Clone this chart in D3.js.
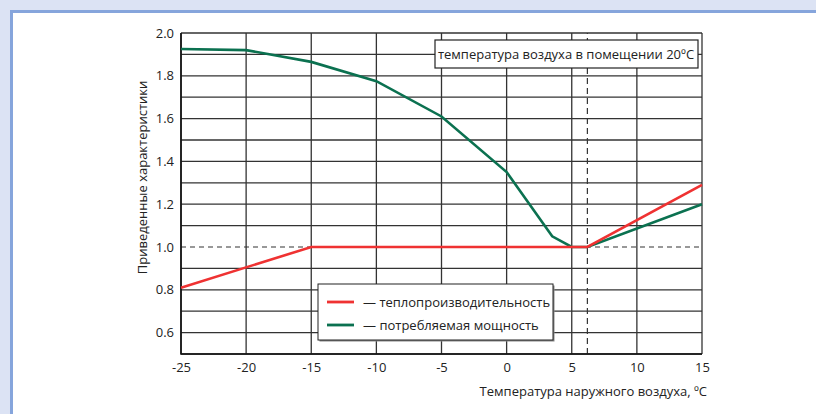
<!DOCTYPE html>
<html>
<head>
<meta charset="utf-8">
<script src="https://cdn.jsdelivr.net/npm/d3@7"></script>
<style>
  body { margin: 0; background: #dce3f4; }
  svg text { font-family: "Open Sans", "Noto Sans", sans-serif; fill: #222; }
</style>
</head>
<body>
<div id="canvas"></div>
<script>
// canvas size and plot box
const width = 816, height = 414;
const margin = { left: 181, right: 114, top: 33, bottom: 60 };

// data
const xTicks = [-25, -20, -15, -10, -5, 0, 5, 10, 15];
const yTicks = [0.6, 0.8, 1.0, 1.2, 1.4, 1.6, 1.8, 2.0];
const heatX = [-25, -15, 6.2, 15];
const heatY = [0.81, 1.0, 1.0, 1.29];
const powerX = [-25, -20, -15, -10, -5, 0, 3.5, 5, 6.2, 15];
const powerY = [1.925, 1.92, 1.865, 1.775, 1.61, 1.35, 1.05, 1.0, 1.0, 1.2];
const balanceX = 6.2;
const legendLabels = ["— теплопроизводительность", "— потребляемая мощность"];
const colors = ["#ef3232", "#0b7150"];

const x = d3.scaleLinear().domain([-25, 15]).range([margin.left, width - margin.right]);
const y = d3.scaleLinear().domain([0.5, 2.0]).range([height - margin.bottom, margin.top]);

const svg = d3.select("#canvas").append("svg")
    .attr("width", width).attr("height", height);

// white panel with blue frame
svg.append("rect").attr("x", 11.5).attr("y", 11.5).attr("width", width).attr("height", height)
    .attr("fill", "#fff").attr("stroke", "#86a5dc").attr("stroke-width", 3);

// grid: horizontal every 0.1, vertical every 5
const g = svg.append("g");
g.selectAll("line.h")
    .data(d3.range(5, 21).map(d => d / 10))
    .join("line")
    .attr("x1", x(-25)).attr("x2", x(15))
    .attr("y1", d => y(d)).attr("y2", d => y(d))
    .attr("stroke", d => Math.abs(d - 1.0) < 1e-6 ? "none" : "#333")
    .attr("stroke-width", 1.3);
g.selectAll("line.v")
    .data(xTicks)
    .join("line")
    .attr("x1", d => x(d)).attr("x2", d => x(d))
    .attr("y1", y(0.5)).attr("y2", y(2.0))
    .attr("stroke", "#333").attr("stroke-width", 1.3);

// dashed reference lines
g.append("line").attr("x1", x(-25)).attr("x2", x(15)).attr("y1", y(1)).attr("y2", y(1))
    .attr("stroke", "#333").attr("stroke-width", 1.2).attr("stroke-dasharray", "5,4");
g.append("line").attr("x1", x(balanceX)).attr("x2", x(balanceX)).attr("y1", y(0.5)).attr("y2", y(2.0))
    .attr("stroke", "#333").attr("stroke-width", 1.2).attr("stroke-dasharray", "6,4");

// axes frame (left and bottom)
svg.append("path")
    .attr("d", `M${x(-25)},${y(2.0)}V${y(0.5)}H${x(15)}`)
    .attr("fill", "none").attr("stroke", "#111").attr("stroke-width", 1.6);

// tick labels via d3 axes (plain hyphen for negatives, like the original)
const xAxis = svg.append("g").attr("transform", `translate(0,${y(0.5)})`)
    .call(d3.axisBottom(x).tickValues(xTicks).tickSize(0).tickPadding(9).tickFormat(d => String(d)));
xAxis.select(".domain").remove();
xAxis.selectAll("text").style("font-size", "13px").attr("font-family", null);

const yAxis = svg.append("g").attr("transform", `translate(${x(-25)},0)`)
    .call(d3.axisLeft(y).tickValues(yTicks).tickSize(0).tickPadding(7).tickFormat(d3.format(".1f")));
yAxis.select(".domain").remove();
yAxis.selectAll("text").style("font-size", "13px").attr("font-family", null);

// series
const line = d3.line().x(d => x(d[0])).y(d => y(d[1]));
svg.append("path").datum(d3.zip(powerX, powerY)).attr("d", line)
    .attr("fill", "none").attr("stroke", colors[1]).attr("stroke-width", 2.6);
svg.append("path").datum(d3.zip(heatX, heatY)).attr("d", line)
    .attr("fill", "none").attr("stroke", colors[0]).attr("stroke-width", 2.6);

// axis titles
svg.append("text").attr("x", 707).attr("y", 396).attr("text-anchor", "end")
    .style("font-size", "13px").text("Температура наружного воздуха, ºC");
svg.append("text").attr("transform", `translate(147,${(y(0.65) + y(2.0)) / 2}) rotate(-90)`)
    .attr("text-anchor", "middle").style("font-size", "13px").text("Приведенные характеристики");

// indoor temperature note
const note = svg.append("g").attr("transform", "translate(435,40)");
note.append("rect").attr("x", 0).attr("y", 0).attr("width", 263).attr("height", 28)
    .attr("fill", "#fff").attr("stroke", "#222").attr("stroke-width", 1.2);
note.append("text").attr("x", 131).attr("y", 19).attr("text-anchor", "middle")
    .style("font-size", "13px").text("температура воздуха в помещении 20ºC");

// legend
const legend = svg.append("g").attr("transform", "translate(318,284)");
legend.append("rect").attr("x", 1.5).attr("y", 1.5).attr("width", 235).attr("height", 56).attr("fill", "#888");
legend.append("rect").attr("x", 0).attr("y", 0).attr("width", 235).attr("height", 56)
    .attr("fill", "#fff").attr("stroke", "#222").attr("stroke-width", 1);
legendLabels.forEach((t, i) => {
    legend.append("line").attr("x1", 9).attr("x2", 36).attr("y1", 18 + i * 23).attr("y2", 18 + i * 23)
        .attr("stroke", colors[i]).attr("stroke-width", 2.8);
    legend.append("text").attr("x", 45).attr("y", 23 + i * 23).style("font-size", "13px").text(t);
});
</script>
</body>
</html>
